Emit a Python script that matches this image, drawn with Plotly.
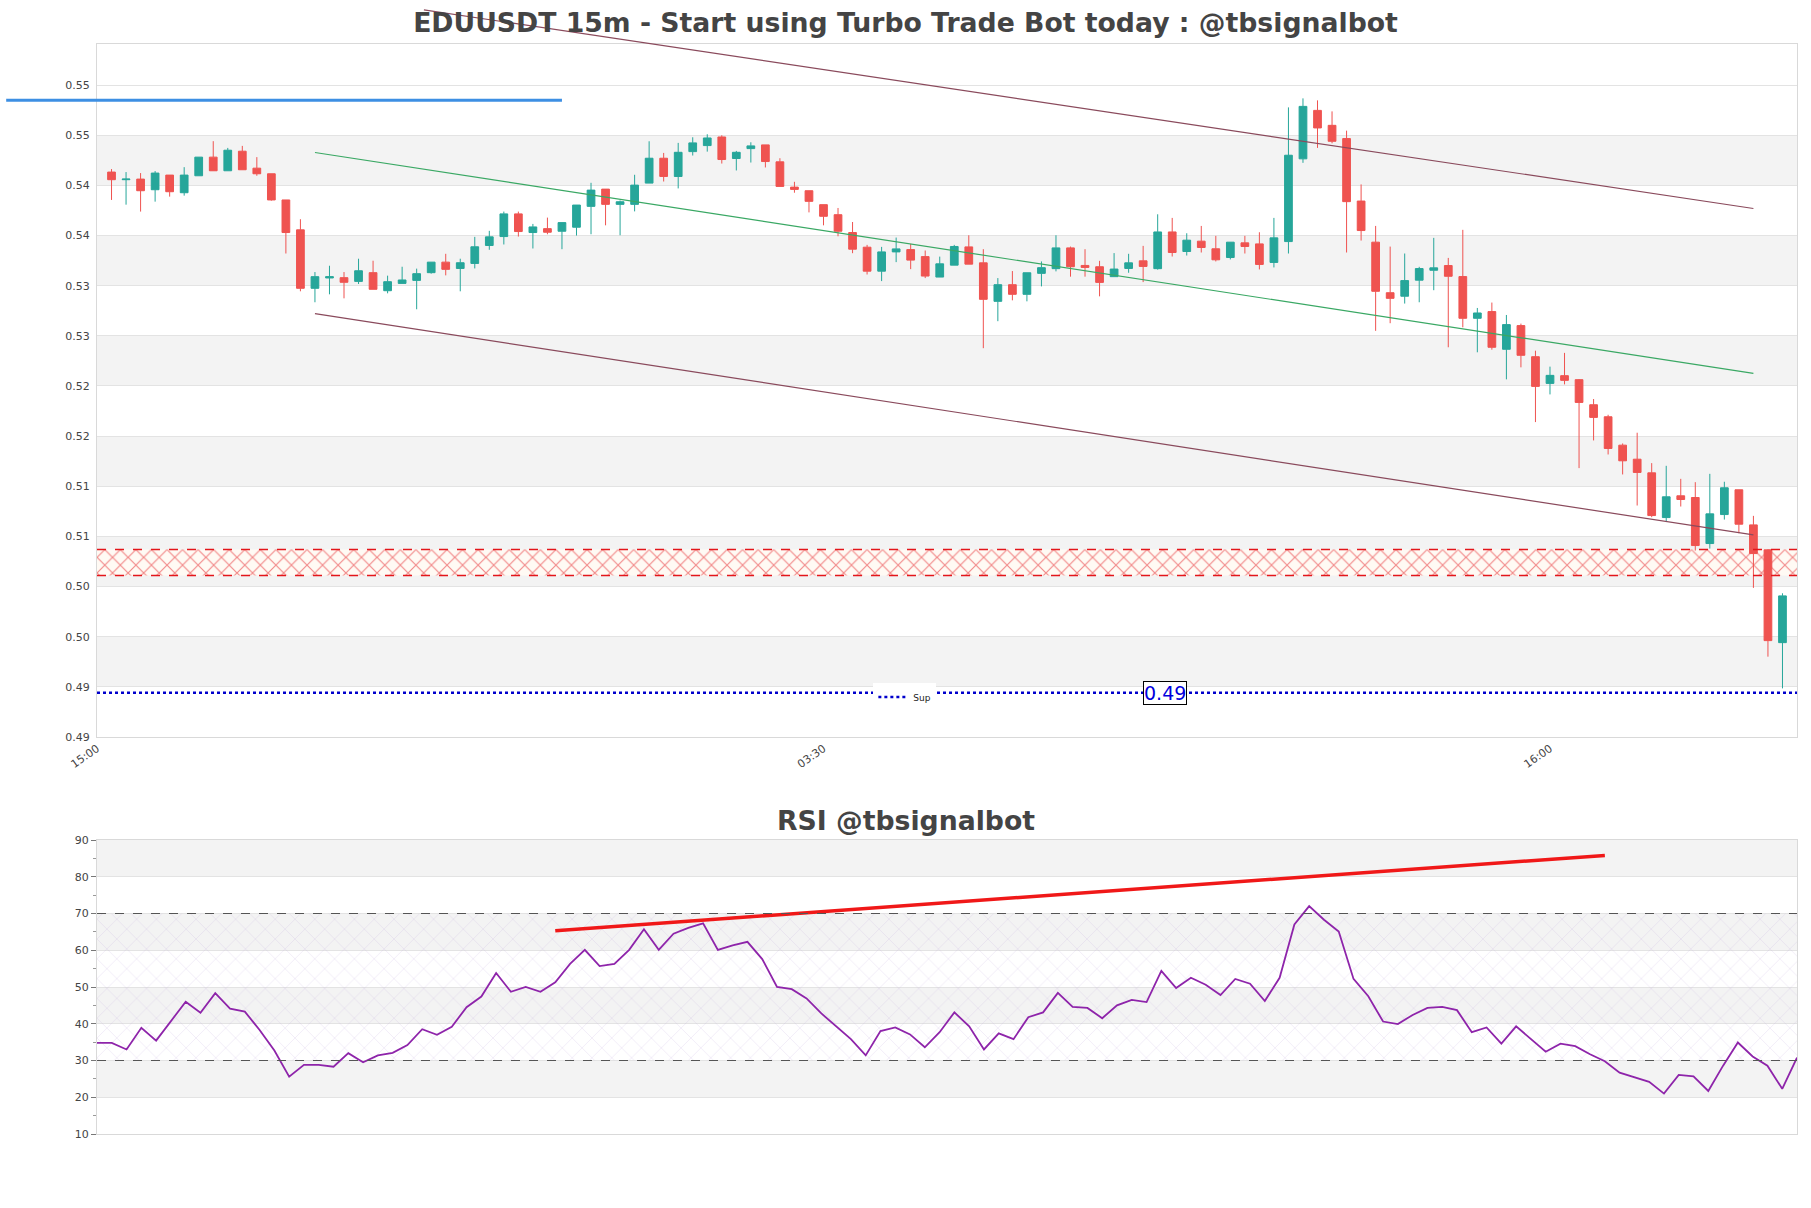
import pandas as pd
import plotly.graph_objects as go

# ---------------- data ----------------
START = "2024-06-10 15:15"
STEP = pd.Timedelta(minutes=15)
N = 116
times = pd.date_range(START, periods=N, freq="15min")

open_ = [0.54133, 0.54057, 0.54063, 0.53957, 0.54103, 0.53927, 0.54096, 0.54282, 0.54146, 0.54341,
         0.54172, 0.54116, 0.53855, 0.53557, 0.52974, 0.53077, 0.53080, 0.53043, 0.53130, 0.52950,
         0.53023, 0.53053, 0.53130, 0.53235, 0.53172, 0.53222, 0.53401, 0.53490, 0.53716, 0.53530,
         0.53569, 0.53543, 0.53583, 0.53791, 0.53963, 0.53811, 0.53811, 0.54023, 0.54271, 0.54089,
         0.54337, 0.54397, 0.54483, 0.54268, 0.54367, 0.54404, 0.54235, 0.53983, 0.53947, 0.53808,
         0.53708, 0.53530, 0.53384, 0.53145, 0.53337, 0.53360, 0.53290, 0.53086, 0.53205, 0.53387,
         0.53228, 0.52844, 0.53010, 0.52914, 0.53123, 0.53170, 0.53377, 0.53202, 0.53189, 0.53090,
         0.53172, 0.53248, 0.53170, 0.53536, 0.53341, 0.53444, 0.53368, 0.53281, 0.53427, 0.53417,
         0.53232, 0.53440, 0.54265, 0.54748, 0.54599, 0.54467, 0.53844, 0.53434, 0.52930, 0.52895,
         0.53055, 0.53154, 0.53201, 0.53091, 0.52675, 0.52742, 0.52366, 0.52602, 0.52292, 0.52026,
         0.52103, 0.52063, 0.51813, 0.51693, 0.51410, 0.51270, 0.51134, 0.50688, 0.50905, 0.50888,
         0.50429, 0.50718, 0.50965, 0.50615, 0.50366, 0.49441]
high = [0.54163, 0.54133, 0.54123, 0.54143, 0.54103, 0.54182, 0.54282, 0.54441, 0.54374, 0.54394,
        0.54282, 0.54116, 0.53855, 0.53663, 0.53136, 0.53199, 0.53136, 0.53269, 0.53249, 0.53100,
        0.53189, 0.53170, 0.53235, 0.53318, 0.53269, 0.53487, 0.53547, 0.53739, 0.53739, 0.53616,
        0.53679, 0.53629, 0.53804, 0.54026, 0.53963, 0.53850, 0.54106, 0.54440, 0.54324, 0.54424,
        0.54480, 0.54510, 0.54500, 0.54344, 0.54430, 0.54404, 0.54271, 0.54036, 0.53947, 0.53808,
        0.53775, 0.53635, 0.53407, 0.53387, 0.53480, 0.53417, 0.53351, 0.53290, 0.53407, 0.53503,
        0.53364, 0.53076, 0.53146, 0.53129, 0.53242, 0.53503, 0.53390, 0.53364, 0.53248, 0.53325,
        0.53318, 0.53397, 0.53712, 0.53676, 0.53523, 0.53596, 0.53497, 0.53434, 0.53497, 0.53533,
        0.53676, 0.54778, 0.54868, 0.54848, 0.54738, 0.54546, 0.54010, 0.53596, 0.53390, 0.53321,
        0.53188, 0.53477, 0.53277, 0.53557, 0.52778, 0.52832, 0.52708, 0.52622, 0.52352, 0.52193,
        0.52330, 0.52069, 0.51870, 0.51713, 0.51427, 0.51534, 0.51231, 0.51204, 0.51074, 0.51041,
        0.51124, 0.51045, 0.50965, 0.50705, 0.50372, 0.49933]
low = [0.53855, 0.53808, 0.53739, 0.53838, 0.53888, 0.53898, 0.54096, 0.54146, 0.54146, 0.54156,
       0.54096, 0.53848, 0.53321, 0.52944, 0.52835, 0.52914, 0.52874, 0.53017, 0.52964, 0.52924,
       0.53023, 0.52765, 0.53120, 0.53103, 0.52944, 0.53172, 0.53358, 0.53411, 0.53490, 0.53371,
       0.53513, 0.53364, 0.53500, 0.53513, 0.53602, 0.53503, 0.53741, 0.54023, 0.54039, 0.53970,
       0.54298, 0.54337, 0.54218, 0.54149, 0.54228, 0.54179, 0.53990, 0.53927, 0.53731, 0.53602,
       0.53493, 0.53324, 0.53112, 0.53046, 0.53235, 0.53165, 0.53076, 0.53086, 0.53205, 0.53215,
       0.52377, 0.52646, 0.52854, 0.52844, 0.52993, 0.53143, 0.53090, 0.53090, 0.52894, 0.53090,
       0.53129, 0.53036, 0.53160, 0.53291, 0.53301, 0.53331, 0.53242, 0.53262, 0.53321, 0.53162,
       0.53182, 0.53321, 0.54225, 0.54374, 0.54420, 0.53331, 0.53450, 0.52550, 0.52626, 0.52822,
       0.52835, 0.52955, 0.52386, 0.52585, 0.52336, 0.52362, 0.52066, 0.52186, 0.51640, 0.51916,
       0.52016, 0.51181, 0.51457, 0.51317, 0.51118, 0.50808, 0.50692, 0.50649, 0.50798, 0.50359,
       0.50379, 0.50668, 0.50532, 0.49987, 0.49301, 0.48985]
close = [0.54057, 0.54063, 0.53947, 0.54123, 0.53937, 0.54103, 0.54282, 0.54146, 0.54351, 0.54156,
         0.54116, 0.53855, 0.53530, 0.52974, 0.53090, 0.53090, 0.53034, 0.53149, 0.52964, 0.53040,
         0.53057, 0.53120, 0.53235, 0.53163, 0.53229, 0.53388, 0.53487, 0.53716, 0.53540, 0.53586,
         0.53533, 0.53629, 0.53804, 0.53953, 0.53811, 0.53837, 0.54003, 0.54271, 0.54089, 0.54330,
         0.54424, 0.54473, 0.54258, 0.54330, 0.54394, 0.54238, 0.53990, 0.53960, 0.53841, 0.53692,
         0.53543, 0.53364, 0.53145, 0.53337, 0.53367, 0.53255, 0.53096, 0.53218, 0.53391, 0.53215,
         0.52864, 0.53010, 0.52914, 0.53129, 0.53180, 0.53377, 0.53189, 0.53182, 0.53033, 0.53166,
         0.53228, 0.53192, 0.53536, 0.53331, 0.53454, 0.53381, 0.53258, 0.53434, 0.53391, 0.53212,
         0.53477, 0.54301, 0.54788, 0.54573, 0.54440, 0.53838, 0.53550, 0.52944, 0.52874, 0.53051,
         0.53171, 0.53178, 0.53094, 0.52675, 0.52728, 0.52386, 0.52612, 0.52306, 0.51996, 0.52106,
         0.52056, 0.51836, 0.51687, 0.51377, 0.51254, 0.51138, 0.50708, 0.50895, 0.50868, 0.50409,
         0.50725, 0.50985, 0.50622, 0.50329, 0.49461, 0.49907]
rsi = [34.8, 34.8, 33.0, 38.9, 35.4, 40.7, 46.0, 43.0, 48.3, 44.1,
       43.3, 38.3, 32.7, 25.6, 28.8, 28.8, 28.3, 32.0, 29.5, 31.4,
       32.1, 34.2, 38.5, 37.0, 39.2, 44.5, 47.4, 53.8, 48.7, 50.0,
       48.7, 51.3, 56.3, 60.1, 55.7, 56.3, 60.1, 65.7, 60.1, 64.5,
       66.1, 67.3, 60.1, 61.3, 62.3, 57.6, 50.0, 49.4, 46.9, 42.8,
       39.3, 35.8, 31.4, 38.0, 39.0, 37.1, 33.6, 37.7, 43.1, 39.3,
       33.0, 37.4, 35.8, 41.8, 43.1, 48.4, 44.6, 44.3, 41.5, 45.0,
       46.5, 45.9, 54.4, 49.7, 52.5, 50.6, 47.8, 52.2, 50.9, 46.2,
       52.5, 67.0, 72.0, 68.3, 65.1, 52.2, 47.5, 40.6, 39.9, 42.4,
       44.3, 44.6, 43.7, 37.7, 39.0, 34.6, 39.3, 35.8, 32.4, 34.6,
       33.9, 31.7, 29.8, 26.7, 25.4, 24.2, 21.0, 26.1, 25.7, 21.7,
       28.6, 34.9, 31.1, 28.6, 22.3, 30.8]

# y tick labels of the price axis
price_ticks = [0.485, 0.490, 0.495, 0.500, 0.505, 0.510, 0.515, 0.520, 0.525, 0.530, 0.535, 0.540, 0.545, 0.550]
price_tick_text = ["0.49", "0.49", "0.50", "0.50", "0.51", "0.51", "0.52", "0.52", "0.53", "0.53",
                   "0.54", "0.54", "0.55", "0.55"]
price_bands = [(0.490, 0.495), (0.500, 0.505), (0.510, 0.515), (0.520, 0.525), (0.530, 0.535), (0.540, 0.545)]
rsi_bands = [(20, 30), (40, 50), (60, 70), (80, 90)]
Y_RANGE = (0.485, 0.5541)

# drawn levels / lines (candle index, price)
SUP_LEVEL = 0.4894
ZONE = (0.5011, 0.5037)
RESIST_LEVEL = 0.5485
RESIST_IDX = (-7.25, 31)
UPPER_LINE = [(21.5, 0.5575), (113, 0.5377)]
MID_LINE = [(14, 0.54328), (113, 0.52125)]
LOWER_LINE = [(14, 0.52722), (113, 0.50515)]
RSI_LINE = [(31, 65.3), (102, 85.8)]
RSI_OB, RSI_OS = 70, 30

UP, DOWN = "#26a69a", "#ef5350"
TXT = "#444444"
GRID = "#e3e3e3"
BAND = "#f3f3f3"
BORDER = "#d9d9d9"
ZONE_RED = "#e3161b"


def t_at(i):
    return times[0] + STEP * i


x_lo = t_at(-1)
x_hi = t_at(N)

W, H = 1811, 1208
ML, MR, MT, MB = 97, 14, 44, 74
plot_h = H - MT - MB
main_bottom = (H - MB - 737) / plot_h
rsi_top = (H - MB - 840) / plot_h


def xfrac(i):
    return (t_at(i) - x_lo) / (x_hi - x_lo)


def yfrac(v):
    return main_bottom + (v - Y_RANGE[0]) / (Y_RANGE[1] - Y_RANGE[0]) * (1 - main_bottom)


fig = go.Figure()

# hatched zone (bar layer sits under the candles)
span_ms = (x_hi - x_lo).total_seconds() * 1000
fig.add_trace(go.Bar(
    x=[x_lo + (x_hi - x_lo) / 2], y=[ZONE[1] - ZONE[0]], base=[ZONE[0]], width=[span_ms],
    marker=dict(color="#fffaf4", line=dict(width=0),
                pattern=dict(shape="x", fgcolor=ZONE_RED, bgcolor="#fffaf4", size=11, solidity=0.2)),
    showlegend=False, hoverinfo="skip", xaxis="x", yaxis="y"))

fig.add_trace(go.Candlestick(
    x=times, open=open_, high=high, low=low, close=close,
    increasing=dict(line=dict(color=UP, width=1), fillcolor=UP),
    decreasing=dict(line=dict(color=DOWN, width=1), fillcolor=DOWN),
    whiskerwidth=0, showlegend=False, xaxis="x", yaxis="y"))

for lvl in ZONE:
    fig.add_trace(go.Scatter(x=[x_lo, x_hi], y=[lvl, lvl], mode="lines",
                             line=dict(color=ZONE_RED, width=1.5, dash="dash"),
                             showlegend=False, hoverinfo="skip", xaxis="x", yaxis="y"))

for pts, col in [(MID_LINE, "#3aa864"), (LOWER_LINE, "#8a4a5c")]:
    fig.add_trace(go.Scatter(x=[t_at(p[0]) for p in pts], y=[p[1] for p in pts], mode="lines",
                             line=dict(color=col, width=1.2), showlegend=False, hoverinfo="skip",
                             xaxis="x", yaxis="y"))

fig.add_trace(go.Scatter(
    x=[x_lo, x_hi], y=[SUP_LEVEL, SUP_LEVEL], mode="lines", name="Sup",
    line=dict(color="#0000cc", width=2.5, dash="dot"), xaxis="x", yaxis="y"))

# RSI
fig.add_trace(go.Scatter(
    x=[times[0], times[-1], times[-1], times[0], times[0]], y=[RSI_OS, RSI_OS, RSI_OB, RSI_OB, RSI_OS],
    mode="lines", fill="toself", fillcolor="rgba(0,0,0,0)",
    fillpattern=dict(shape="x", fgcolor="rgba(185,160,215,0.75)", bgcolor="rgba(0,0,0,0)", size=14,
                     solidity=0.07),
    line=dict(width=0), showlegend=False, hoverinfo="skip", xaxis="x2", yaxis="y2"))
fig.add_trace(go.Scatter(x=times, y=rsi, mode="lines", line=dict(color="#8e24aa", width=1.8),
                         showlegend=False, xaxis="x2", yaxis="y2"))
fig.add_trace(go.Scatter(x=[t_at(p[0]) for p in RSI_LINE], y=[p[1] for p in RSI_LINE], mode="lines",
                         line=dict(color="#f01818", width=3.5), showlegend=False, xaxis="x2", yaxis="y2"))

shapes = []
for lo, hi in price_bands:
    shapes.append(dict(type="rect", xref="x domain", yref="y", x0=0, x1=1, y0=lo, y1=hi,
                       fillcolor=BAND, line=dict(width=0), layer="below"))
for lo, hi in rsi_bands:
    shapes.append(dict(type="rect", xref="x2 domain", yref="y2", x0=0, x1=1, y0=lo, y1=hi,
                       fillcolor=BAND, line=dict(width=0), layer="below"))
for lvl in (RSI_OB, RSI_OS):
    shapes.append(dict(type="line", xref="x2 domain", yref="y2", x0=0, x1=1, y0=lvl, y1=lvl,
                       line=dict(color="#555555", width=1.2, dash="dash")))
# lines drawn past the plot area
shapes.append(dict(type="line", xref="x", yref="paper", x0=t_at(UPPER_LINE[0][0]), x1=t_at(UPPER_LINE[1][0]),
                   y0=yfrac(UPPER_LINE[0][1]), y1=yfrac(UPPER_LINE[1][1]), line=dict(color="#8a4a5c", width=1.2)))
shapes.append(dict(type="line", xref="paper", yref="y", x0=xfrac(RESIST_IDX[0]), x1=xfrac(RESIST_IDX[1]),
                   y0=RESIST_LEVEL, y1=RESIST_LEVEL, line=dict(color="#3d8fe3", width=3)))

fig.update_layout(
    width=W, height=H, margin=dict(l=ML, r=MR, t=MT, b=MB),
    paper_bgcolor="white", plot_bgcolor="white",
    font=dict(family="DejaVu Sans", size=11, color=TXT),
    title=dict(text="<b>EDUUSDT 15m - Start using Turbo Trade Bot today : @tbsignalbot</b>",
               x=0.5, xref="container", xanchor="center", y=1 - 23 / H, yref="container", yanchor="middle",
               font=dict(family="DejaVu Sans", size=26.7, color=TXT)),
    boxgap=0.24, barmode="overlay",
    xaxis=dict(domain=[0, 1], anchor="y", type="date", range=[x_lo, x_hi], rangeslider=dict(visible=False),
               tickformat="%H:%M", tick0=x_lo, dtick=12.5 * 3600 * 1000, tickangle=-35,
               showgrid=False, showline=True, mirror=True, linecolor=BORDER, ticks="",
               tickfont=dict(size=11, color=TXT)),
    yaxis=dict(domain=[main_bottom, 1], anchor="x", range=list(Y_RANGE), tickmode="array",
               tickvals=price_ticks, ticktext=price_tick_text, gridcolor=GRID, zeroline=False,
               showline=True, mirror=True, linecolor=BORDER, ticks="", ticklabelstandoff=4,
               tickfont=dict(size=11, color=TXT)),
    xaxis2=dict(domain=[0, 1], anchor="y2", type="date", range=[times[0], times[-1]], showticklabels=False,
                showgrid=False, showline=True, mirror=True, linecolor=BORDER, ticks=""),
    yaxis2=dict(domain=[0, rsi_top], anchor="x2", range=[10, 90], tick0=10, dtick=10, gridcolor=GRID,
                zeroline=False, showline=True, mirror=True, linecolor=BORDER,
                ticks="outside", ticklen=5, tickcolor="#777777",
                minor=dict(dtick=5, ticks="outside", ticklen=3, tickcolor="#999999", showgrid=False),
                tickfont=dict(size=11, color=TXT)),
    shapes=shapes,
    showlegend=True,
    legend=dict(x=xfrac(54.6), y=(H - MB - 697) / plot_h, xanchor="center", yanchor="middle",
                bgcolor="white", font=dict(size=9, color="#222222"), itemwidth=30,
                tracegroupgap=0),
    annotations=[
        dict(text="<b>RSI @tbsignalbot</b>", xref="paper", yref="paper",
             x=(W / 2 - ML) / (W - ML - MR), y=(H - MB - 820) / plot_h, xanchor="center", yanchor="middle",
             showarrow=False, font=dict(family="DejaVu Sans", size=26.7, color=TXT)),
        dict(text=f"{SUP_LEVEL:.2f}", x=t_at(72.5), y=SUP_LEVEL, xref="x", yref="y", showarrow=False,
             font=dict(size=19, color="#0000dd"), bgcolor="white", bordercolor="black", borderwidth=1,
             borderpad=0),
    ],
)

fig.write_html("out.html")
